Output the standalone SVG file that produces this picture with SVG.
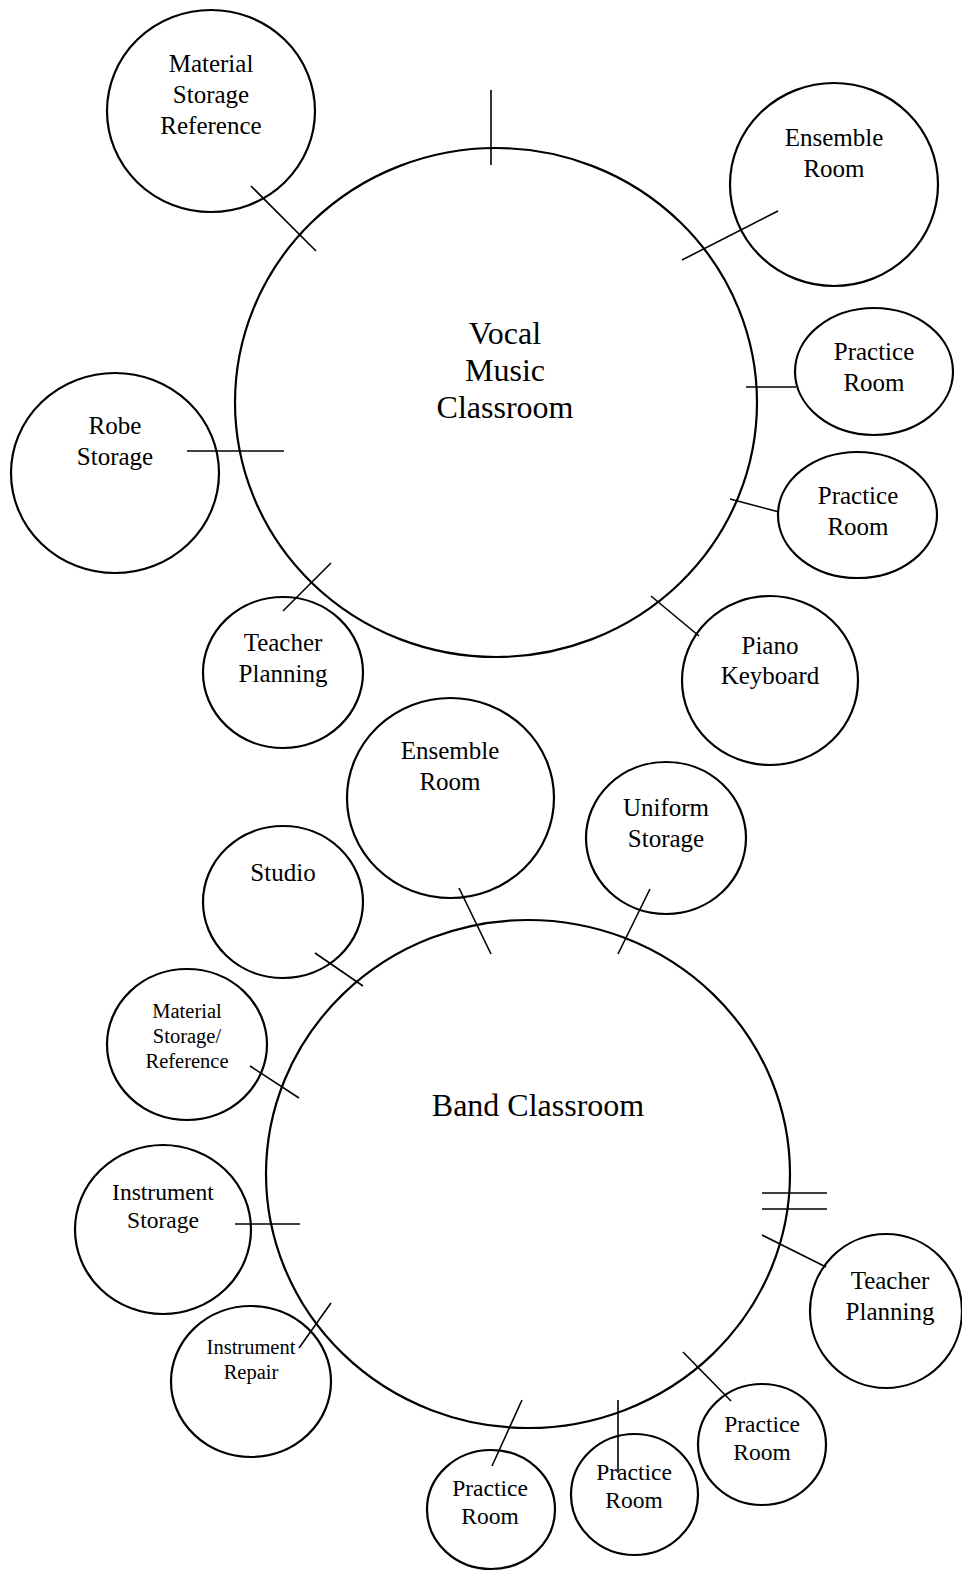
<svg xmlns="http://www.w3.org/2000/svg" width="962" height="1571" viewBox="0 0 962 1571">
<style>
.n{fill:none;stroke:#000;stroke-width:2.2}
.c{stroke:#000;stroke-width:1.6;fill:none}
text{font-family:"Liberation Serif","Times New Roman",serif;fill:#000;text-anchor:middle}
.xl{font-size:32px}
.l{font-size:25px}
.m{font-size:23.5px}
.s{font-size:20.5px}
</style>
<rect width="962" height="1571" fill="#fff"/>
<g id="connectors">
<line class="c" x1="491" y1="90" x2="491" y2="165"/>
<line class="c" x1="251" y1="186" x2="316" y2="251"/>
<line class="c" x1="682" y1="260" x2="778" y2="211"/>
<line class="c" x1="746" y1="387" x2="796" y2="387"/>
<line class="c" x1="730" y1="499" x2="779" y2="512"/>
<line class="c" x1="651" y1="596" x2="699" y2="636"/>
<line class="c" x1="187" y1="451" x2="284" y2="451"/>
<line class="c" x1="283" y1="611" x2="331" y2="563"/>
<line class="c" x1="459" y1="888" x2="491" y2="954"/>
<line class="c" x1="650" y1="889" x2="618" y2="954"/>
<line class="c" x1="315" y1="953" x2="363" y2="986"/>
<line class="c" x1="250" y1="1066" x2="299" y2="1098"/>
<line class="c" x1="235" y1="1224" x2="300" y2="1224"/>
<line class="c" x1="299" y1="1348" x2="331" y2="1303"/>
<line class="c" x1="762" y1="1193" x2="827" y2="1193"/>
<line class="c" x1="762" y1="1209" x2="827" y2="1209"/>
<line class="c" x1="762" y1="1235" x2="826" y2="1267"/>
<line class="c" x1="683" y1="1352" x2="731" y2="1401"/>
<line class="c" x1="618" y1="1400" x2="618" y2="1473"/>
<line class="c" x1="522" y1="1400" x2="492" y2="1466"/>
</g>
<g id="vocal">
<ellipse class="n" cx="496" cy="402.5" rx="261" ry="254.5"/>
<text class="xl" x="505" y="344">Vocal</text>
<text class="xl" x="505" y="381">Music</text>
<text class="xl" x="505" y="418">Classroom</text>
</g>
<g id="material-top">
<ellipse class="n" cx="211" cy="111" rx="104" ry="101"/>
<text class="l" x="211" y="72">Material</text>
<text class="l" x="211" y="103">Storage</text>
<text class="l" x="211" y="134">Reference</text>
</g>
<g id="ensemble-top">
<ellipse class="n" cx="834" cy="184.5" rx="104" ry="101.5"/>
<text class="l" x="834" y="146">Ensemble</text>
<text class="l" x="834" y="177">Room</text>
</g>
<g id="practice-top1">
<ellipse class="n" cx="874" cy="371.5" rx="79" ry="63.5"/>
<text class="l" x="874" y="360">Practice</text>
<text class="l" x="874" y="391">Room</text>
</g>
<g id="practice-top2">
<ellipse class="n" cx="857.5" cy="515" rx="79.5" ry="63"/>
<text class="l" x="858" y="504">Practice</text>
<text class="l" x="858" y="535">Room</text>
</g>
<g id="piano">
<ellipse class="n" cx="770" cy="680.5" rx="88" ry="84.5"/>
<text class="l" x="770" y="654">Piano</text>
<text class="l" x="770" y="684">Keyboard</text>
</g>
<g id="robe">
<ellipse class="n" cx="115" cy="473" rx="104" ry="100"/>
<text class="l" x="115" y="434">Robe</text>
<text class="l" x="115" y="465">Storage</text>
</g>
<g id="teacher-top">
<ellipse class="n" cx="283" cy="672.5" rx="80" ry="75.5"/>
<text class="l" x="283" y="651">Teacher</text>
<text class="l" x="283" y="682">Planning</text>
</g>
<g id="band">
<ellipse class="n" cx="528" cy="1174" rx="262" ry="254"/>
<text class="xl" x="538" y="1116">Band Classroom</text>
</g>
<g id="ensemble-band">
<ellipse class="n" cx="450.5" cy="798" rx="103.5" ry="100"/>
<text class="l" x="450" y="759">Ensemble</text>
<text class="l" x="450" y="790">Room</text>
</g>
<g id="uniform">
<ellipse class="n" cx="666" cy="838" rx="80" ry="76"/>
<text class="l" x="666" y="816">Uniform</text>
<text class="l" x="666" y="847">Storage</text>
</g>
<g id="studio">
<ellipse class="n" cx="283" cy="902" rx="80" ry="76"/>
<text class="l" x="283" y="881">Studio</text>
</g>
<g id="material-band">
<ellipse class="n" cx="187" cy="1044.5" rx="80" ry="75.5"/>
<text class="s" x="187" y="1018">Material</text>
<text class="s" x="187" y="1043">Storage/</text>
<text class="s" x="187" y="1068">Reference</text>
</g>
<g id="instrument-storage">
<ellipse class="n" cx="163" cy="1229.5" rx="88" ry="84.5"/>
<text class="m" x="163" y="1200">Instrument</text>
<text class="m" x="163" y="1228">Storage</text>
</g>
<g id="instrument-repair">
<ellipse class="n" cx="251" cy="1381.5" rx="80" ry="75.5"/>
<text class="s" x="251" y="1354">Instrument</text>
<text class="s" x="251" y="1379">Repair</text>
</g>
<g id="teacher-band">
<ellipse class="n" cx="886" cy="1311" rx="76" ry="77"/>
<text class="l" x="890" y="1289">Teacher</text>
<text class="l" x="890" y="1320">Planning</text>
</g>
<g id="practice-a">
<ellipse class="n" cx="762" cy="1444.5" rx="64" ry="60.5"/>
<text class="m" x="762" y="1432">Practice</text>
<text class="m" x="762" y="1460">Room</text>
</g>
<g id="practice-b">
<ellipse class="n" cx="634.5" cy="1494.5" rx="63.5" ry="60.5"/>
<text class="m" x="634" y="1480">Practice</text>
<text class="m" x="634" y="1508">Room</text>
</g>
<g id="practice-c">
<ellipse class="n" cx="491" cy="1509.5" rx="64" ry="59.5"/>
<text class="m" x="490" y="1496">Practice</text>
<text class="m" x="490" y="1524">Room</text>
</g>
</svg>
